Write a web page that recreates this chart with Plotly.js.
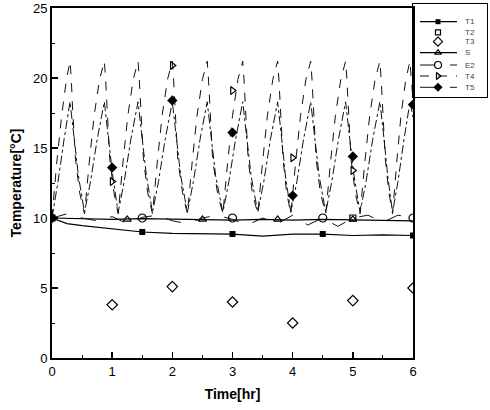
<!DOCTYPE html>
<html>
<head>
<meta charset="utf-8">
<script src="https://cdn.plot.ly/plotly-3.0.1.min.js"></script>
<style>html,body{margin:0;padding:0;background:#fff;}#chart{width:490px;height:410px;}</style>
</head>
<body>
<div id="chart"></div>
<script>
// ---- Data ----
const seriesNames = ["T1", "T2", "T3", "S", "E2", "T4", "T5"];

// T1: solid line, filled squares
const t1LineX = [0, 0.25, 0.5, 0.75, 1.0, 1.25, 1.5, 2.0, 2.5, 3.0, 3.5, 4.0, 4.5, 5.0, 5.5, 6.0];
const t1LineY = [10.0, 9.6, 9.45, 9.35, 9.2, 9.1, 9.0, 8.9, 8.85, 8.85, 8.7, 8.85, 8.85, 8.75, 8.8, 8.75];
const t1MarkX = [1.5, 3.0, 4.5, 6.0];
const t1MarkY = [9.0, 8.86, 8.86, 8.75];

// T2: open squares
const t2MarkX = [0, 5.0];
const t2MarkY = [10.0, 10.0];

// T3: open diamonds
const t3MarkX = [1, 2, 3, 4, 5, 6];
const t3MarkY = [3.8, 5.1, 4.0, 2.5, 4.1, 5.0];

// S: solid line, open triangles
const sLineX = [0, 0.5, 1.0, 1.5, 2.0, 2.5, 3.0, 3.5, 4.0, 4.5, 5.0, 5.5, 6.0];
const sLineY = [10.0, 9.95, 9.9, 9.95, 9.9, 9.9, 9.85, 9.9, 9.85, 9.9, 9.85, 9.85, 9.8];
const sMarkX = [0, 1.25, 2.5, 3.75, 5.0];
const sMarkY = [10.0, 9.9, 9.9, 9.9, 9.9];

// E2: long-dash wavy line near 10, open circles
const e2LineX = [0, 0.25, 0.5, 0.75, 1.0, 1.25, 1.5, 1.75, 2.0, 2.25, 2.5, 2.75, 3.0, 3.25, 3.5, 3.75, 4.0, 4.25, 4.5, 4.75, 5.0, 5.25, 5.5, 5.75, 6.0];
const e2LineY = [10.0, 10.3, 10.0, 9.8, 10.1, 9.6, 10.05, 10.2, 9.8, 9.6, 10.0, 10.2, 9.9, 9.5, 10.0, 9.6, 10.2, 9.5, 10.0, 9.4, 10.0, 10.2, 9.7, 10.2, 10.0];
const e2MarkX = [1.5, 3.0, 4.5, 6.0];
const e2MarkY = [10.0, 10.0, 10.0, 10.0];

// T4: dashed sawtooth (outer, peaks ~21), open right triangles
const t4LineX = [0.00, 0.08, 0.16, 0.24, 0.30, 0.32, 0.34, 0.39, 0.46, 0.54,
  0.62, 0.70, 0.79, 0.87, 0.89, 0.91, 0.96, 1.03, 1.10,
  1.18, 1.26, 1.35, 1.43, 1.45, 1.47, 1.52, 1.59, 1.67,
  1.75, 1.83, 1.92, 2.00, 2.02, 2.04, 2.09, 2.17, 2.25,
  2.33, 2.41, 2.50, 2.58, 2.60, 2.62, 2.67, 2.75, 2.84,
  2.92, 3.00, 3.09, 3.17, 3.19, 3.21, 3.26, 3.33, 3.42,
  3.50, 3.58, 3.67, 3.75, 3.77, 3.79, 3.84, 3.90, 3.97,
  4.05, 4.13, 4.22, 4.30, 4.32, 4.34, 4.39, 4.46, 4.55,
  4.63, 4.71, 4.80, 4.88, 4.90, 4.92, 4.97, 5.04, 5.12,
  5.20, 5.28, 5.37, 5.45, 5.47, 5.49, 5.54, 5.60, 5.66,
  5.73, 5.80, 5.88, 5.95, 5.97, 6.00];
const t4LineY = [10.0, 14.0, 17.3, 19.9, 21.2, 20.0, 18.0, 14.2, 11.8, 10.3,
  14.0, 17.3, 19.9, 21.2, 20.0, 18.0, 14.2, 11.8, 10.3,
  14.0, 17.3, 19.9, 21.2, 20.0, 18.0, 14.2, 11.8, 10.3,
  14.0, 17.3, 19.9, 21.2, 20.0, 18.0, 14.2, 11.8, 10.3,
  14.0, 17.3, 19.9, 21.2, 20.0, 18.0, 14.2, 11.8, 10.3,
  14.0, 17.3, 19.9, 21.2, 20.0, 18.0, 14.2, 11.8, 10.3,
  14.0, 17.3, 19.9, 21.2, 20.0, 18.0, 14.2, 11.8, 10.3,
  14.0, 17.3, 19.9, 21.2, 20.0, 18.0, 14.2, 11.8, 10.3,
  14.0, 17.3, 19.9, 21.2, 20.0, 18.0, 14.2, 11.8, 10.3,
  14.0, 17.3, 19.9, 21.2, 20.0, 18.0, 14.2, 11.8, 10.3,
  14.0, 17.3, 19.9, 21.2, 20.0, 18.5];
const t4MarkX = [1, 2, 3, 4, 5];
const t4MarkY = [12.6, 20.9, 19.1, 14.3, 13.4];

// T5: long-dash sawtooth (inner, peaks ~18.3), filled diamonds
const t5LineX = [0.00, 0.10, 0.20, 0.30, 0.36, 0.44, 0.54,
  0.64, 0.75, 0.87, 0.93, 1.01, 1.10,
  1.20, 1.31, 1.43, 1.49, 1.57, 1.67,
  1.77, 1.88, 2.00, 2.06, 2.14, 2.25,
  2.35, 2.46, 2.58, 2.64, 2.72, 2.84,
  2.94, 3.05, 3.17, 3.23, 3.31, 3.42,
  3.52, 3.63, 3.75, 3.81, 3.88, 3.97,
  4.07, 4.18, 4.30, 4.36, 4.44, 4.55,
  4.65, 4.76, 4.88, 4.94, 5.02, 5.12,
  5.22, 5.33, 5.45, 5.51, 5.58, 5.66,
  5.75, 5.85, 5.95, 6.00];
const t5LineY = [10.0, 12.6, 15.6, 18.3, 16.0, 13.0, 10.4,
  12.6, 15.6, 18.3, 16.0, 13.0, 10.4,
  12.6, 15.6, 18.3, 16.0, 13.0, 10.4,
  12.6, 15.6, 18.3, 16.0, 13.0, 10.4,
  12.6, 15.6, 18.3, 16.0, 13.0, 10.4,
  12.6, 15.6, 18.3, 16.0, 13.0, 10.4,
  12.6, 15.6, 18.3, 16.0, 13.0, 10.4,
  12.6, 15.6, 18.3, 16.0, 13.0, 10.4,
  12.6, 15.6, 18.3, 16.0, 13.0, 10.4,
  12.6, 15.6, 18.3, 16.0, 13.0, 10.4,
  12.6, 15.6, 18.3, 17.2];
const t5MarkX = [0, 1, 2, 3, 4, 5, 6];
const t5MarkY = [10.0, 13.6, 18.4, 16.1, 11.6, 14.4, 18.1];

// ---- Styles ----
const K = "#000";
const styles = [
  {line: {color: K, width: 1.2, dash: "solid"}, marker: {symbol: "square", size: 6, color: K}, legLine: true},
  {line: {color: K, width: 1, dash: "dot"}, marker: {symbol: "square-open", size: 6, color: K, line: {width: 1.2, color: K}}, legLine: false},
  {line: {color: K, width: 1, dash: "dot"}, marker: {symbol: "diamond-open", size: 8, color: K, line: {width: 1.2, color: K}}, legLine: false},
  {line: {color: K, width: 1.2, dash: "solid"}, marker: {symbol: "triangle-up-open", size: 7, color: K, line: {width: 1.2, color: K}}, legLine: true},
  {line: {color: "#111", width: 1, dash: "longdash"}, marker: {symbol: "circle-open", size: 8, color: K, line: {width: 1.2, color: K}}, legLine: true},
  {line: {color: "#111", width: 1, dash: "dash"}, marker: {symbol: "triangle-right-open", size: 7, color: K, line: {width: 1.2, color: K}}, legLine: true},
  {line: {color: "#111", width: 1, dash: "dashdot"}, marker: {symbol: "diamond", size: 8, color: K}, legLine: true}
];

const lines = [
  [t1LineX, t1LineY], null, null, [sLineX, sLineY], [e2LineX, e2LineY], [t4LineX, t4LineY], [t5LineX, t5LineY]
];
const marks = [
  [t1MarkX, t1MarkY], [t2MarkX, t2MarkY], [t3MarkX, t3MarkY], [sMarkX, sMarkY], [e2MarkX, e2MarkY], [t4MarkX, t4MarkY], [t5MarkX, t5MarkY]
];

// legend box geometry (pixels inside the legend panel, 74 x 93)
const legRowY = [17.7, 28.3, 37.7, 48.7, 61, 72, 83.3];
const legLineX = [7, 44];
const legMarkX = 25;
const legTextX = 50;

const traces = [];
const annotations = [];
seriesNames.forEach((name, i) => {
  const st = styles[i];
  if (lines[i]) {
    traces.push({x: lines[i][0], y: lines[i][1], mode: "lines", line: st.line, showlegend: false, hoverinfo: "skip"});
  }
  traces.push({x: marks[i][0], y: marks[i][1], mode: "markers", marker: st.marker, showlegend: false});
  // legend sample drawn in the legend panel
  if (st.legLine) {
    traces.push({x: legLineX, y: [legRowY[i], legRowY[i]], xaxis: "x2", yaxis: "y2", mode: "lines",
      line: Object.assign({}, st.line, {dash: st.line.dash === "dashdot" ? "longdash" : st.line.dash}), showlegend: false});
  }
  traces.push({x: [legMarkX], y: [legRowY[i]], xaxis: "x2", yaxis: "y2", mode: "markers",
    marker: Object.assign({}, st.marker, {size: Math.max(5, st.marker.size - 1)}), showlegend: false});
  annotations.push({xref: "x2", yref: "y2", x: legTextX, y: legRowY[i], text: name, showarrow: false,
    xanchor: "left", yanchor: "middle", font: {family: "Liberation Sans, Arial, sans-serif", size: 8, color: "#444"}});
});

const fontFam = "Liberation Sans, Arial, sans-serif";
const axisCommon = {
  showgrid: false, zeroline: false, showline: true, linecolor: K, linewidth: 2, mirror: true,
  ticks: "inside", ticklen: 6, tickwidth: 1.5, tickcolor: K,
  tickfont: {family: fontFam, size: 13, color: K}
};

// plot area: left 52, right 413, top 8, bottom 358 (page px); legend panel 413-487 x 4-97
const layout = {
  width: 490, height: 410,
  margin: {l: 52, r: 3, t: 4, b: 52},
  paper_bgcolor: "#fff", plot_bgcolor: "rgba(0,0,0,0)",
  showlegend: false,
  xaxis: Object.assign({}, axisCommon, {
    domain: [0, 361 / 435],
    range: [0, 6], tickvals: [0, 1, 2, 3, 4, 5, 6],
    minor: {ticks: "inside", ticklen: 3, tickwidth: 1, tickcolor: K, dtick: 0.5},
    title: {text: "Time[hr]", font: {family: fontFam, size: 14, color: K, weight: "bold"}, standoff: 12}
  }),
  yaxis: Object.assign({}, axisCommon, {
    domain: [0, 350 / 354],
    range: [0, 25], tickvals: [0, 5, 10, 15, 20, 25],
    minor: {ticks: "inside", ticklen: 3, tickwidth: 1, tickcolor: K, dtick: 2.5},
    title: {text: "Temperature[°C]", font: {family: fontFam, size: 14, color: K, weight: "bold"}, standoff: 8}
  }),
  xaxis2: {domain: [361 / 435, 435 / 435], anchor: "y2", range: [0, 74], showgrid: false, zeroline: false,
    showticklabels: false, ticks: "", showline: true, mirror: true, linecolor: K, linewidth: 1.2, fixedrange: true},
  yaxis2: {domain: [(354 - 93) / 354, 1], anchor: "x2", range: [93, 0], showgrid: false, zeroline: false,
    showticklabels: false, ticks: "", showline: true, mirror: true, linecolor: K, linewidth: 1.2, fixedrange: true},
  annotations: annotations
};

Plotly.newPlot("chart", traces, layout, {staticPlot: true, displayModeBar: false});
</script>
</body>
</html>
